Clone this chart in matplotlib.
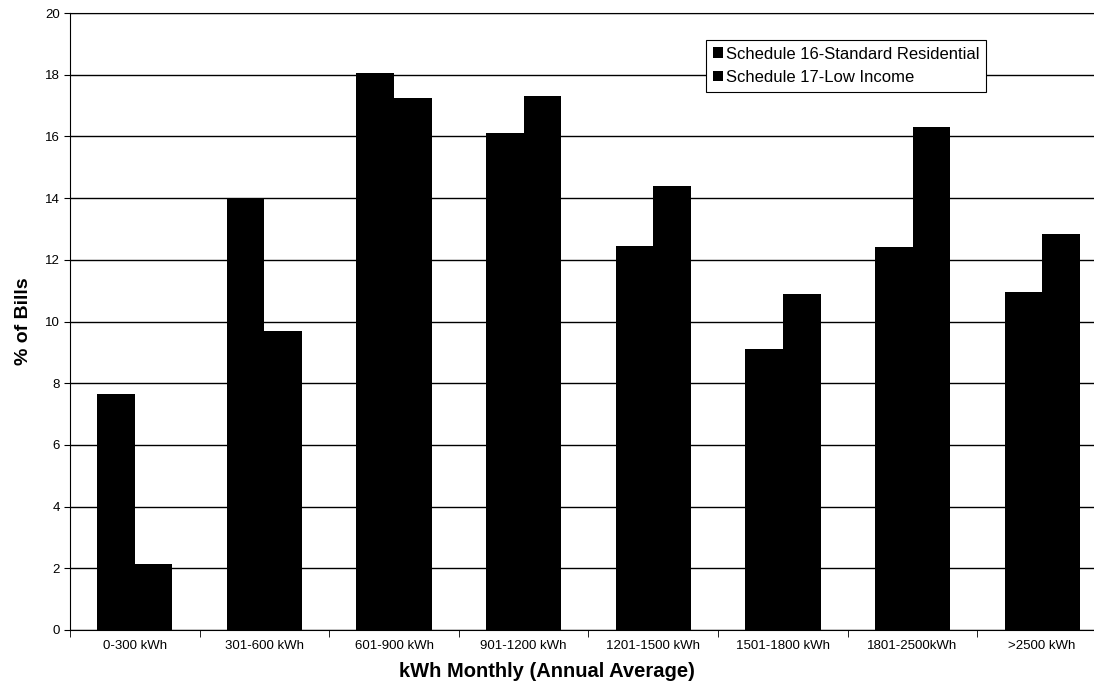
import numpy as np
import matplotlib.pyplot as plt

plt.rcParams['font.family'] = ['Liberation Sans', 'DejaVu Sans']

# data
categories = ['0-300 kWh', '301-600 kWh', '601-900 kWh', '901-1200 kWh',
              '1201-1500 kWh', '1501-1800 kWh', '1801-2500kWh', '>2500 kWh']
sched16 = [7.65, 14.0, 18.05, 16.1, 12.45, 9.1, 12.4, 10.95]
sched17 = [2.15, 9.7, 17.25, 17.3, 14.4, 10.9, 16.3, 12.85]
series_names = ['Schedule 16-Standard Residential', 'Schedule 17-Low Income']

x = np.arange(len(categories))
w = 0.29

fig = plt.figure(figsize=(10.94, 6.92), dpi=100)
ax = fig.add_axes([70 / 1094, 1 - 630 / 692, 1 - 70 / 1094, 617 / 692])

ax.bar(x - w / 2, sched16, w, color='black', label=series_names[0], zorder=3)
ax.bar(x + w / 2, sched17, w, color='black', label=series_names[1], zorder=3)

ax.set_ylim(0, 20)
ax.set_yticks(np.arange(0, 21, 2))
ax.yaxis.grid(True, color='black', linewidth=1.0, zorder=0)
ax.set_xlim(-0.5, 7.4)
ax.set_xticks(x)
ax.set_xticklabels(categories, fontsize=9.5)
ax.set_xticks(np.arange(-0.5, 7.5, 1), minor=True)
ax.tick_params(axis='x', which='major', length=0, pad=7)
ax.tick_params(axis='x', which='minor', length=5, direction='out')
ax.tick_params(axis='y', labelsize=9.5, length=4, direction='out')

ax.spines['right'].set_visible(False)
ax.spines['top'].set_linestyle((0, (4, 1)))
ax.spines['top'].set_linewidth(0.8)

ax.set_ylabel('% of Bills', fontsize=14, fontweight='bold')
ax.yaxis.set_label_coords(-38 / 1024, 0.5)
ax.set_xlabel('kWh Monthly (Annual Average)', fontsize=14.5, fontweight='bold')
ax.xaxis.set_label_coords(477 / 1024, -32 / 617)

leg = ax.legend(loc='upper left', bbox_to_anchor=(636 / 1024, 1 - 27 / 617), fontsize=12,
                frameon=True, fancybox=False, edgecolor='black', framealpha=1,
                handlelength=0.6, handleheight=0.6, handletextpad=0.2,
                borderpad=0.4, labelspacing=0.5, borderaxespad=0)
leg.get_frame().set_linewidth(0.8)

fig.savefig('out.png', dpi=100)
